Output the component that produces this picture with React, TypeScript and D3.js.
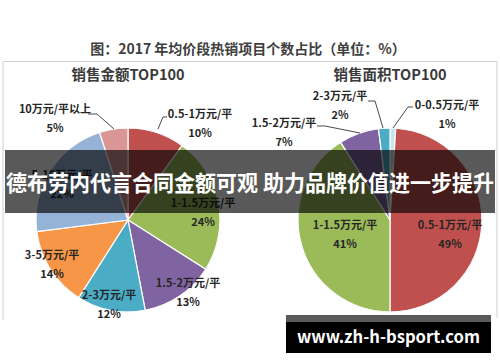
import React from "react";
import * as d3 from "d3";

const titleText = "图：2017 年均价段热销项目个数占比（单位：%）";
const bannerText = "德布劳内代言合同金额可观 助力品牌价值进一步提升";
const footerText = "www.zh-h-bsport.com";

const leftTitle = "销售金额TOP100";
const leftCategories = ["0.5-1万元/平", "1-1.5万元/平", "1.5-2万元/平", "2-3万元/平", "3-5万元/平", "5-10万元/平", "10万元/平以上"];
const leftValues = [10, 24, 13, 12, 14, 22, 5];
const leftColors = ["#C0504D", "#9BBB59", "#8064A2", "#4BACC6", "#F79646", "#95B3D7", "#D99694"];

const rightTitle = "销售面积TOP100";
const rightCategories = ["0-0.5万元/平", "0.5-1万元/平", "1-1.5万元/平", "1.5-2万元/平", "2-3万元/平"];
const rightValues = [1, 49, 41, 7, 2];
const rightColors = ["#C6E4EE", "#C0504D", "#9BBB59", "#8064A2", "#4BACC6"];

// label layout (center x, baseline y of name line)
const leftLabelPos: [number, number][] = [[200, 118], [203, 207], [188, 287], [109, 299], [52, 259], [62, 179], [55, 113]];
const rightLabelPos: [number, number][] = [[447, 109], [450, 229], [345, 229], [284, 127], [340, 100]];

const leftLeaders: Record<number, [number, number][]> = {
  0: [[167, 117], [163, 117], [158, 129]],
  6: [[88, 114], [97, 114], [114, 129]],
};
const rightLeaders: Record<number, [number, number][]> = {
  0: [[413, 107], [408, 107], [393, 128]],
  3: [[317, 126], [325, 126], [360, 133]],
  4: [[368, 101], [375, 101], [383, 128]],
};

const FONT = "'Noto Sans CJK SC', 'Noto Sans', sans-serif";

function Pie(props: {
  cx: number; cy: number; r: number; values: number[]; cats: string[]; colors: string[];
  labelPos: [number, number][]; leaders: Record<number, [number, number][]>; title: string;
}) {
  const { cx, cy, r, values, cats, colors, labelPos, leaders, title } = props;
  const pie = d3.pie<number>().sort(null).startAngle(0).endAngle(2 * Math.PI)(values);
  const arc = d3.arc<d3.PieArcDatum<number>>().innerRadius(0).outerRadius(r);
  const line = d3.line();
  const total = d3.sum(values);
  return (
    <g>
      <text x={cx} y={80} textAnchor="middle" fontFamily={FONT} fontWeight="bold" fontSize={14.5} fill="#3a3a3a">{title}</text>
      <g transform={`translate(${cx},${cy})`}>
        {pie.map((d, i) => (
          <path key={i} d={arc(d) || ""} fill={colors[i]} stroke="#ffffff" strokeWidth={1.2} />
        ))}
        <circle r={r} fill="none" stroke="#f4f4f4" strokeWidth={1} opacity={0.6} />
      </g>
      {Object.entries(leaders).map(([k, pts]) => (
        <path key={k} d={line(pts) || ""} fill="none" stroke="#4a4a4a" strokeWidth={1} />
      ))}
      {cats.map((c, i) => (
        <g key={c} fontFamily={FONT} fontWeight="bold" fontSize={11} fill="#262626" textAnchor="middle">
          <text x={labelPos[i][0]} y={labelPos[i][1]}>{c}</text>
          <text x={labelPos[i][0]} y={labelPos[i][1] + 19}>{Math.round((values[i] / total) * 100)}%</text>
        </g>
      ))}
    </g>
  );
}

export default function App() {
  return (
    <svg width={500} height={362} style={{ position: "absolute", left: 0, top: 0, background: "#ffffff" }}>
      <rect x={0} y={0} width={500} height={362} fill="#ffffff" />
      <text x={248} y={54} textAnchor="middle" fontFamily={FONT} fontWeight="bold" fontSize={14} fill="#404040">{titleText}</text>
      <path d="M3,320 V61.5 H497 V318" fill="none" stroke="#cfcfcf" strokeWidth={1} />
      <Pie cx={128} cy={220} r={92} values={leftValues} cats={leftCategories} colors={leftColors}
        labelPos={leftLabelPos} leaders={leftLeaders} title={leftTitle} />
      <Pie cx={390} cy={220} r={92} values={rightValues} cats={rightCategories} colors={rightColors}
        labelPos={rightLabelPos} leaders={rightLeaders} title={rightTitle} />
      <rect x={5} y={150} width={490} height={63} fill="#000000" opacity={0.65} />
      <text x={250} y={191} textAnchor="middle" fontFamily={FONT} fontWeight="bold" fontSize={22} fill="#ffffff"
        textLength={488} lengthAdjust="spacingAndGlyphs">{bannerText}</text>
      <rect x={286} y={315} width={205} height={7} fill="#5a5a5a" />
      <rect x={286} y={322} width={205} height={31} fill="#000000" />
      <text x={388.5} y={343} textAnchor="middle" fontFamily={FONT} fontWeight="bold" fontSize={17} fill="#ffffff"
        textLength={183} lengthAdjust="spacingAndGlyphs">{footerText}</text>
    </svg>
  );
}
